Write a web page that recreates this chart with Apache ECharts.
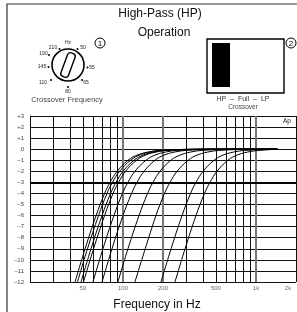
<!DOCTYPE html>
<html>
<head>
<meta charset="utf-8">
<script src="https://cdn.jsdelivr.net/npm/echarts@6/dist/echarts.min.js"></script>
<style>
  html, body { margin: 0; padding: 0; background: #fff; }
  #chart { width: 297px; height: 312px; }
</style>
</head>
<body>
<div id="chart"></div>
<script>
var dbLevels = [-12, -9, -6, -4, -3, -2, -1, -0.5, -0.2, -0.1, -0.03, 0, 0];
// frequency (Hz) of every curve at those levels, lowest setting first
var curveFreqs = [
    [43.6, 51.9, 62.8, 72.7, 80, 90.3, 109, 130, 163, 193, 260, 414, 1450],
    [45.5, 54.1, 65.5, 75.8, 83.4, 94.2, 114, 135, 170, 202, 271, 432, 1450],
    [48.4, 57.5, 69.6, 80.6, 88.7, 100, 121, 144, 180, 214, 288, 459, 1450],
    [50.5, 60.1, 72.7, 84.2, 92.6, 104.5, 126.5, 150, 188, 224, 300, 480, 1450],
    [59.5, 70.7, 85.5, 99.1, 109, 123, 149, 177, 222, 264, 354, 565, 1450],
    [69.6, 82.7, 100, 116, 127.5, 144, 174, 207, 259, 308, 414, 660, 1450],
    [91.6, 109, 132, 153, 168, 190, 229, 273, 342, 406, 545, 870, 1450],
    [123, 147, 177, 205, 226, 255, 309, 367, 460, 546, 733, 1170, 1450],
    [193, 230, 278, 322, 354, 400, 484, 575, 720, 856, 1149, 1400, 1450],
    [246, 293, 354, 410, 451, 509, 616, 732, 917, 1090, 1300, 1420, 1450]
];
// grid lines and tick labels of the frequency axis
var gridFreqs = [30, 40, 50, 60, 70, 80, 90, 100, 200, 300, 400, 500, 600, 700, 800, 900, 1000, 2000];
var boldFreqs = [100, 200, 1000];
var xTickVals = [50, 100, 200, 500, 1000, 2000];
var xTickLabels = ['50', '100', '200', '500', '1k', '2k'];
// dial labels (Crossover Frequency)
var dialLabels = ['Hz', '50', '55', '65', '80', '110', '145', '190', '210'];

var chart = echarts.init(document.getElementById('chart'));

// ------------------------------------------------------- //
// Curves
// ------------------------------------------------------ //
var series = curveFreqs.map(function (fs) {
    return {
        type: 'line',
        data: fs.map(function (f, i) { return [f, dbLevels[i]]; }),
        symbol: 'none',
        smooth: 0.4,
        lineStyle: { color: '#000', width: 1 },
        z: 5
    };
});

// x tick labels + vertical grid lines
series.push({
    type: 'scatter',
    symbolSize: 0,
    data: xTickVals.map(function (v, i) {
        return {
            value: [v, -12],
            label: { formatter: xTickLabels[i], offset: v == 2000 ? [-8, 0] : [0, 0] }
        };
    }),
    label: { show: true, position: 'bottom', distance: 3, fontSize: 6, color: '#444', fontFamily: 'Liberation Sans' },
    markLine: {
        silent: true,
        symbol: 'none',
        label: { show: false },
        data: gridFreqs.map(function (f) {
            var b = boldFreqs.indexOf(f) >= 0;
            return { xAxis: f, lineStyle: { type: 'solid', color: b ? '#777' : '#111', width: b ? 2 : 1 } };
        }).concat([{ yAxis: -3, lineStyle: { type: 'solid', color: '#000', width: 2 } }])
    },
    z: 2
});

// ------------------------------------------------------- //
// Dial + switch drawing
// ------------------------------------------------------ //
var dialPos = [[68, 43], [83, 48], [92, 68], [86, 83], [68, 92], [43, 83], [42, 67], [43.5, 54], [53, 48]];
var dotPos = [null, [77.5, 49], [87.5, 67.5], [82, 80], [68, 87], [51, 80], [48.5, 67], [49, 55], [59.5, 49]];
var graphics = [
    { type: 'rect', shape: { x: 7, y: 4, width: 296, height: 320 }, style: { fill: 'none', stroke: '#333', lineWidth: 1.2 } },
    { type: 'text', x: 160, y: 14, style: { text: 'High-Pass (HP)', fontSize: 12, fontFamily: 'Liberation Sans', fill: '#111', align: 'center', verticalAlign: 'middle' } },
    { type: 'text', x: 164, y: 33, style: { text: 'Operation', fontSize: 12, fontFamily: 'Liberation Sans', fill: '#111', align: 'center', verticalAlign: 'middle' } },
    { type: 'circle', shape: { cx: 68, cy: 65, r: 16 }, style: { fill: '#fff', stroke: '#000', lineWidth: 1.6 } },
    { type: 'rect', x: 68, y: 65, rotation: -0.35, shape: { x: -4, y: -12.5, width: 8, height: 25, r: 3 }, style: { fill: '#fff', stroke: '#000', lineWidth: 1.4 } },
    { type: 'circle', shape: { cx: 100, cy: 43, r: 5 }, style: { fill: 'none', stroke: '#000', lineWidth: 1 } },
    { type: 'text', x: 100, y: 43.5, style: { text: '1', fontSize: 8, fontFamily: 'Liberation Sans', fill: '#000', align: 'center', verticalAlign: 'middle' } },
    { type: 'text', x: 67, y: 100, style: { text: 'Crossover Frequency', fontSize: 7.5, fontFamily: 'Liberation Sans', fill: '#444', align: 'center', verticalAlign: 'middle' } },
    { type: 'rect', shape: { x: 207, y: 39, width: 77, height: 54 }, style: { fill: '#fff', stroke: '#000', lineWidth: 1.4 } },
    { type: 'rect', shape: { x: 212, y: 43, width: 18, height: 44 }, style: { fill: '#000' } },
    { type: 'circle', shape: { cx: 291, cy: 43, r: 5 }, style: { fill: 'none', stroke: '#000', lineWidth: 1 } },
    { type: 'text', x: 291, y: 43.5, style: { text: '2', fontSize: 8, fontFamily: 'Liberation Sans', fill: '#000', align: 'center', verticalAlign: 'middle' } },
    { type: 'text', x: 243, y: 99, style: { text: 'HP  \u2013  Full  \u2013  LP', fontSize: 7, fontFamily: 'Liberation Sans', fill: '#333', align: 'center', verticalAlign: 'middle' } },
    { type: 'text', x: 243, y: 107, style: { text: 'Crossover', fontSize: 6.5, fontFamily: 'Liberation Sans', fill: '#444', align: 'center', verticalAlign: 'middle' } },
    { type: 'text', x: 287, y: 121.5, style: { text: 'Ap', fontSize: 6.5, fontFamily: 'Liberation Sans', fill: '#222', align: 'center', verticalAlign: 'middle' } },
    { type: 'text', x: 157, y: 305, style: { text: 'Frequency in Hz', fontSize: 12, fontFamily: 'Liberation Sans', fill: '#111', align: 'center', verticalAlign: 'middle' } }
];
dialLabels.forEach(function (t, i) {
    graphics.push({ type: 'text', x: dialPos[i][0], y: dialPos[i][1], style: { text: t, fontSize: 5, fontFamily: 'Liberation Sans', fill: '#222', align: 'center', verticalAlign: 'middle' } });
    if (dotPos[i]) {
        graphics.push({ type: 'circle', shape: { cx: dotPos[i][0], cy: dotPos[i][1], r: 1 }, style: { fill: '#000' } });
    }
});

var option = {
    animation: false,
    backgroundColor: '#fff',
    grid: { left: 30, top: 116, width: 266, height: 166 },
    xAxis: {
        type: 'log',
        logBase: 10,
        min: 20,
        max: 2000,
        axisLine: { show: false },
        axisTick: { show: false },
        axisLabel: { show: false },
        splitLine: { show: false }
    },
    yAxis: {
        type: 'value',
        min: -12,
        max: 3,
        interval: 1,
        axisLine: { show: true, lineStyle: { color: '#111', width: 1 } },
        axisTick: { show: false },
        axisLabel: {
            fontSize: 6,
            margin: 6,
            color: '#444',
            fontFamily: 'Liberation Sans',
            formatter: function (v) { return v > 0 ? '+' + v : (v < 0 ? '\u2013' + (-v) : '0'); }
        },
        splitLine: { show: true, lineStyle: { color: '#111', width: 1 } }
    },
    graphic: graphics,
    series: series
};
chart.setOption(option);

window.addEventListener('resize', function () {
    if (chart != null && chart != undefined) {
        chart.resize();
    }
});
</script>
</body>
</html>
